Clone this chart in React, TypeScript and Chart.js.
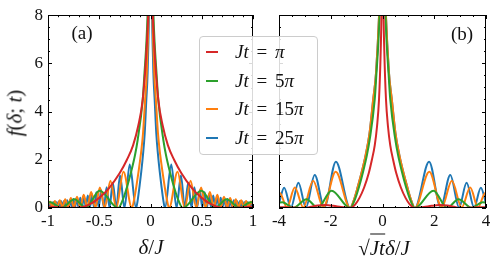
import React, { useEffect, useRef } from "react";
import { Chart, registerables } from "chart.js";
Chart.register(...registerables);

// ---------- series metadata ----------
const seriesLabels = ["Jt = π", "Jt = 5π", "Jt = 15π", "Jt = 25π"];
const seriesColors = ["#d62728", "#2ca02c", "#ff7f0e", "#1f77b4"];

// ---------- panel (a): x = δ/J ----------
const aRedX = [-1.0,-0.9,-0.8,-0.7,-0.6,-0.5,-0.4,-0.3,-0.23,-0.17,-0.12,-0.076,-0.04,-0.02,0,0.02,0.04,0.076,0.12,0.17,0.23,0.3,0.4,0.5,0.6,0.7,0.8,0.9,1.0];
const aRedY = [0.05,0.03,0.01,0.01,0.14,0.42,0.85,1.45,2.0,2.6,3.4,4.5,6.5,8.5,14,8.5,6.5,4.5,3.4,2.6,2.0,1.45,0.85,0.42,0.14,0.01,0.01,0.03,0.05];

const aGreenX = [-1.0,-0.977,-0.868,-0.742,-0.631,-0.497,-0.315,-0.265,-0.227,-0.189,-0.151,-0.126,-0.0757,-0.0631,-0.0252,0,0.0252,0.0631,0.0757,0.126,0.151,0.189,0.227,0.265,0.315,0.497,0.631,0.742,0.868,0.977,1.0];
const aGreenY = [0.23,0.24,0.01,0.36,0.01,0.72,0,0.4,0.9,1.5,2.2,2.8,4.5,5.3,8.5,14,8.5,5.3,4.5,2.8,2.2,1.5,0.9,0.4,0,0.72,0.01,0.36,0.01,0.24,0.23];

const aOrangeX = [-1.0,-0.980,-0.957,-0.933,-0.909,-0.885,-0.859,-0.832,-0.805,-0.777,-0.748,-0.717,-0.685,-0.652,-0.617,-0.579,-0.538,-0.494,-0.446,-0.391,-0.334,-0.264,-0.182,-0.160,-0.138,-0.117,-0.0948,-0.0729,-0.0525,-0.0364,-0.0146,0,0.0146,0.0364,0.0525,0.0729,0.0948,0.117,0.138,0.160,0.182,0.264,0.334,0.391,0.446,0.494,0.538,0.579,0.617,0.652,0.685,0.717,0.748,0.777,0.805,0.832,0.859,0.885,0.909,0.933,0.957,0.980,1.0];
const aOrangeY = [0.12,0.27,0.03,0.29,0.03,0.32,0.03,0.36,0.03,0.41,0.03,0.47,0.03,0.55,0.03,0.66,0.02,0.85,0.02,1.13,0,1.5,0,0.35,0.9,1.5,2.2,3.1,4.5,5.6,9,14,9,5.6,4.5,3.1,2.2,1.5,0.9,0.35,0,1.5,0,1.13,0.02,0.85,0.02,0.66,0.03,0.55,0.03,0.47,0.03,0.41,0.03,0.36,0.03,0.32,0.03,0.29,0.03,0.27,0.12];

const aBlueX = [-1.0,-0.985,-0.974,-0.961,-0.949,-0.936,-0.923,-0.910,-0.897,-0.884,-0.870,-0.856,-0.842,-0.827,-0.813,-0.798,-0.783,-0.767,-0.752,-0.736,-0.720,-0.703,-0.685,-0.668,-0.650,-0.631,-0.612,-0.591,-0.571,-0.551,-0.528,-0.505,-0.481,-0.455,-0.428,-0.400,-0.368,-0.334,-0.297,-0.254,-0.203,-0.141,-0.124,-0.107,-0.0903,-0.0734,-0.0564,-0.0406,-0.0282,-0.0113,0,0.0113,0.0282,0.0406,0.0564,0.0734,0.0903,0.107,0.124,0.141,0.203,0.254,0.297,0.334,0.368,0.400,0.428,0.455,0.481,0.505,0.528,0.551,0.571,0.591,0.612,0.631,0.650,0.668,0.685,0.703,0.720,0.736,0.752,0.767,0.783,0.798,0.813,0.827,0.842,0.856,0.870,0.884,0.897,0.910,0.923,0.936,0.949,0.961,0.974,0.985,1.0];
const aBlueY = [0.22,0.03,0.24,0.03,0.25,0.03,0.26,0.03,0.27,0.03,0.28,0.03,0.30,0.03,0.32,0.03,0.34,0.03,0.37,0.03,0.40,0.03,0.43,0.03,0.47,0.03,0.52,0.03,0.58,0.03,0.65,0.03,0.74,0.03,0.86,0.02,1.05,0.02,1.35,0,1.8,0,0.35,0.9,1.5,2.2,3.1,4.5,5.6,9,14,9,5.6,4.5,3.1,2.2,1.5,0.9,0.35,0,1.8,0,1.35,0.02,1.05,0.02,0.86,0.03,0.74,0.03,0.65,0.03,0.58,0.03,0.52,0.03,0.47,0.03,0.43,0.03,0.40,0.03,0.37,0.03,0.34,0.03,0.32,0.03,0.30,0.03,0.28,0.03,0.27,0.03,0.26,0.03,0.25,0.03,0.24,0.03,0.22];

// ---------- panel (b): x = sqrt(Jt) δ/J ----------
const bRedX = [-4.0,-3.5,-3.0,-2.8,-2.5,-2.2,-1.9,-1.6,-1.24,-1.06,-0.89,-0.71,-0.53,-0.41,-0.3,-0.21,-0.135,-0.07,-0.035,0,0.035,0.07,0.135,0.21,0.3,0.41,0.53,0.71,0.89,1.06,1.24,1.6,1.9,2.2,2.5,2.8,3.0,3.5,4.0];
const bRedY = [0.03,0.02,0,0.04,0.1,0.12,0.09,0.04,0,0.14,0.42,0.85,1.45,2.0,2.6,3.4,4.5,6.5,8.5,14,8.5,6.5,4.5,3.4,2.6,2.0,1.45,0.85,0.42,0.14,0,0.04,0.09,0.12,0.1,0.04,0,0.02,0.03];

const bGreenX = [-4.0,-3.87,-3.44,-2.94,-2.5,-1.97,-1.25,-1.05,-0.9,-0.75,-0.6,-0.5,-0.3,-0.25,-0.1,0,0.1,0.25,0.3,0.5,0.6,0.75,0.9,1.05,1.25,1.97,2.5,2.94,3.44,3.87,4.0];
const bGreenY = [0.22,0.24,0.01,0.36,0.01,0.72,0,0.4,0.9,1.5,2.2,2.8,4.5,5.3,8.5,14,8.5,5.3,4.5,2.8,2.2,1.5,0.9,0.4,0,0.72,0.01,0.36,0.01,0.24,0.22];

const bOrangeX = [-4.0,-3.97,-3.69,-3.39,-3.06,-2.68,-2.29,-1.81,-1.25,-1.1,-0.95,-0.8,-0.65,-0.5,-0.36,-0.25,-0.1,0,0.1,0.25,0.36,0.5,0.65,0.8,0.95,1.1,1.25,1.81,2.29,2.68,3.06,3.39,3.69,3.97,4.0];
const bOrangeY = [0.6,0.62,0.02,0.85,0.02,1.13,0.02,1.5,0,0.35,0.9,1.5,2.2,3.1,4.5,5.6,9,14,9,5.6,4.5,3.1,2.2,1.5,0.9,0.35,0,1.5,0.02,1.13,0.02,0.85,0.02,0.62,0.6];

const bBlueX = [-4.0,-3.8,-3.54,-3.25,-2.96,-2.62,-2.25,-1.8,-1.25,-1.1,-0.95,-0.8,-0.65,-0.5,-0.36,-0.25,-0.1,0,0.1,0.25,0.36,0.5,0.65,0.8,0.95,1.1,1.25,1.8,2.25,2.62,2.96,3.25,3.54,3.8,4.0];
const bBlueY = [0.2,0.84,0.02,1.05,0.02,1.37,0.02,1.92,0,0.35,0.9,1.5,2.2,3.1,4.5,5.6,9,14,9,5.6,4.5,3.1,2.2,1.5,0.9,0.35,0,1.92,0.02,1.37,0.02,1.05,0.02,0.84,0.2];

// ---------- axes / ticks ----------
const yMin = 0, yMax = 8, yStep = 2, yMinorStep = 0.5;
const aXMin = -1, aXMax = 1, aXStep = 0.5, aXMinorStep = 0.1;
const bXMin = -4, bXMax = 4, bXStep = 2, bXMinorStep = 0.5;

const FONT = "'Liberation Serif', 'DejaVu Serif', serif";

function range(a: number, b: number, s: number) {
  const out: number[] = [];
  const n = Math.round((b - a) / s);
  for (let i = 0; i <= n; i++) out.push(+(a + i * s).toFixed(6));
  return out;
}

function pts(xs: number[], ys: number[]) {
  return xs.map((x, i) => ({ x, y: ys[i] }));
}

function makeTickPlugin(xMaj: number[], xMin: number[], yMaj: number[], yMin_: number[]) {
  return {
    id: "frameTicks",
    afterDatasetsDraw(chart: any) {
      const { ctx, chartArea, scales } = chart;
      const { left, right, top, bottom } = chartArea;
      const xs = scales.x, ys = scales.y;
      ctx.save();
      ctx.strokeStyle = "#000";
      ctx.lineWidth = 1;
      ctx.beginPath();
      const draw = (vals: number[], len: number, horizontal: boolean) => {
        for (const v of vals) {
          if (horizontal) {
            const p = Math.round(xs.getPixelForValue(v)) + 0.5;
            ctx.moveTo(p, bottom); ctx.lineTo(p, bottom - len);
            ctx.moveTo(p, top); ctx.lineTo(p, top + len);
          } else {
            const p = Math.round(ys.getPixelForValue(v)) + 0.5;
            ctx.moveTo(left, p); ctx.lineTo(left + len, p);
            ctx.moveTo(right, p); ctx.lineTo(right - len, p);
          }
        }
      };
      draw(xMaj, 4, true);
      draw(xMin, 2, true);
      draw(yMaj, 4, false);
      draw(yMin_, 2, false);
      ctx.stroke();
      ctx.strokeRect(Math.round(left) + 0.5, Math.round(top) + 0.5, Math.round(right - left) - 1, Math.round(bottom - top) - 1);
      ctx.restore();
    },
  };
}

function makeDatasets(series: { x: number[]; y: number[] }[]) {
  return series.map((s, i) => ({
    label: seriesLabels[i],
    data: pts(s.x, s.y),
    borderColor: seriesColors[i],
    backgroundColor: seriesColors[i],
    borderWidth: 2,
    pointRadius: 0,
    fill: false,
    cubicInterpolationMode: "monotone" as const,
  }));
}

const fmtTick = (v: any) => String(Math.round(Number(v) * 100) / 100);

function makeConfig(
  series: { x: number[]; y: number[] }[],
  xmin: number, xmax: number, xstep: number, xminor: number,
  showY: boolean, padding: any
) {
  return {
    type: "line" as const,
    data: { datasets: makeDatasets(series) },
    options: {
      responsive: false,
      animation: false,
      devicePixelRatio: 1,
      layout: { padding },
      plugins: { legend: { display: false }, tooltip: { enabled: false } },
      scales: {
        x: {
          type: "linear" as const,
          min: xmin, max: xmax,
          grid: { display: false, drawTicks: false },
          border: { display: false },
          ticks: { stepSize: xstep, padding: 3, color: "#111", font: { family: FONT, size: 17 }, maxRotation: 0, callback: fmtTick },
          afterFit: (s: any) => { s.height = 63; },
        },
        y: {
          type: "linear" as const,
          min: yMin, max: yMax,
          display: showY,
          grid: { display: false, drawTicks: false },
          border: { display: false },
          ticks: { stepSize: yStep, padding: 5, color: "#111", font: { family: FONT, size: 17 }, callback: fmtTick },
          afterFit: (s: any) => { s.width = showY ? 48 : 0; },
        },
      },
    },
    plugins: [makeTickPlugin(
      range(xmin, xmax, xstep), range(xmin, xmax, xminor),
      range(yMin, yMax, yStep), range(yMin, yMax, yMinorStep)
    )],
  };
}

const Txt: React.FC<{ x: number; y: number; size?: number; rotate?: boolean; children: any }> = ({ x, y, size = 20, rotate, children }) => (
  <div style={{
    position: "absolute", left: x, top: y, transform: `translate(-50%, -50%)${rotate ? " rotate(-90deg)" : ""}`,
    fontFamily: FONT, fontSize: size, color: "#111", whiteSpace: "nowrap", lineHeight: 1,
  }}>{children}</div>
);

export default function App() {
  const refA = useRef<HTMLCanvasElement>(null);
  const refB = useRef<HTMLCanvasElement>(null);

  useEffect(() => {
    const cA = new Chart(refA.current as HTMLCanvasElement, makeConfig(
      [{ x: aRedX, y: aRedY }, { x: aGreenX, y: aGreenY }, { x: aOrangeX, y: aOrangeY }, { x: aBlueX, y: aBlueY }],
      aXMin, aXMax, aXStep, aXMinorStep, true, { left: 0, top: 15, right: 9, bottom: 0 }
    ) as any);
    const cB = new Chart(refB.current as HTMLCanvasElement, makeConfig(
      [{ x: bRedX, y: bRedY }, { x: bGreenX, y: bGreenY }, { x: bOrangeX, y: bOrangeY }, { x: bBlueX, y: bBlueY }],
      bXMin, bXMax, bXStep, bXMinorStep, false, { left: 17, top: 15, right: 13, bottom: 0 }
    ) as any);
    return () => { cA.destroy(); cB.destroy(); };
  }, []);

  const legendRows = [14.7, 44, 72.3, 100.7];

  return (
    <div style={{ position: "absolute", left: 0, top: 0, width: 499, height: 271, background: "#fff", overflow: "hidden" }}>
      <canvas ref={refA} width={262} height={271} style={{ position: "absolute", left: 0, top: 0, width: 262, height: 271 }} />
      <canvas ref={refB} width={237} height={271} style={{ position: "absolute", left: 262, top: 0, width: 237, height: 271 }} />

      <Txt x={82} y={32} size={19}>(a)</Txt>
      <Txt x={462} y={33} size={19}>(b)</Txt>

      <Txt x={151} y={247} size={21}><i>δ</i>/<i>J</i></Txt>
      <Txt x={15} y={113} size={21} rotate><i>f</i>(<i>δ</i>; <i>t</i>)</Txt>
      <Txt x={384} y={248} size={21}>
        √<span style={{ borderTop: "1px solid #111", paddingTop: 1 }}><i>Jt</i></span><i>δ</i>/<i>J</i>
      </Txt>

      <div style={{
        position: "absolute", left: 199, top: 36, width: 117, height: 117,
        border: "1px solid #cccccc", borderRadius: 4, background: "rgba(255,255,255,0.85)",
      }}>
        {seriesLabels.map((lab, i) => {
          const parts = lab.split(" = ");
          return (
            <div key={lab} style={{ position: "absolute", left: 0, top: legendRows[i] - 10, height: 20, width: 117 }}>
              <div style={{ position: "absolute", left: 6, top: 9, width: 12, height: 2, background: seriesColors[i] }} />
              <div style={{
                position: "absolute", left: 35, top: 0, lineHeight: "20px",
                fontFamily: FONT, fontSize: 19, color: "#111", whiteSpace: "nowrap", wordSpacing: 3,
              }}>
                <i>{parts[0]}</i> = {parts[1].replace("π", "")}<i>π</i>
              </div>
            </div>
          );
        })}
      </div>
    </div>
  );
}
